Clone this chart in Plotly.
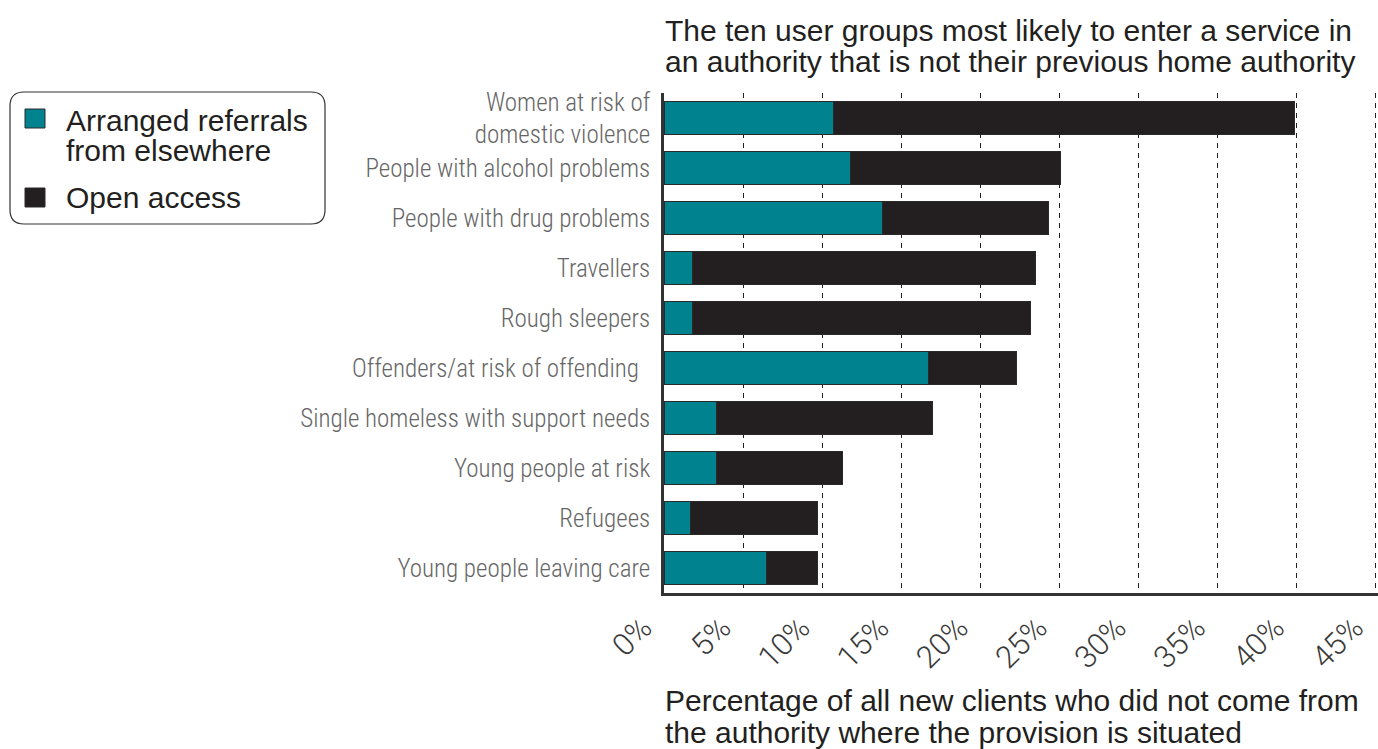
import plotly.graph_objects as go

categories = [
    "Women at risk of<br>domestic violence",
    "People with alcohol problems",
    "People with drug problems",
    "Travellers",
    "Rough sleepers",
    "Offenders/at risk of offending\u00a0\u00a0",
    "Single homeless with support needs",
    "Young people at risk",
    "Refugees",
    "Young people leaving care",
]
arranged_referrals = [10.7, 11.8, 13.8, 1.8, 1.8, 16.7, 3.3, 3.3, 1.7, 6.5]
open_access = [29.2, 13.3, 10.5, 21.7, 21.4, 5.6, 13.7, 8.0, 8.0, 3.2]
x_ticks = [0, 5, 10, 15, 20, 25, 30, 35, 40, 45]
x_tick_labels = ["0%", "5%", "10%", "15%", "20%", "25%", "30%", "35%", "40%", "45%"]

TEAL = "#00838F"
DARK = "#231F20"

W, H = 1378, 749
PL, PT = 664, 93
PW, PH = W - PL, 500


def xp(px):
    return (px - PL) / PW


def yp(py):
    return (PT + PH - py) / PH


fig = go.Figure()
fig.add_trace(go.Bar(
    y=categories, x=arranged_referrals, orientation="h", name="Arranged referrals from elsewhere",
    marker=dict(color=TEAL, line=dict(color="#2a2a2a", width=1)), width=0.66, showlegend=False,
))
fig.add_trace(go.Bar(
    y=categories, x=open_access, orientation="h", name="Open access",
    marker=dict(color=DARK, line=dict(color="#2a2a2a", width=1)), width=0.66, showlegend=False,
))

label_font = dict(family="Roboto Condensed, Liberation Sans Narrow, Liberation Sans", size=25,
                  color="#666666", weight=300)
tick_font = dict(family="Roboto, Liberation Sans", size=31, color="#3a3a3a", weight=300)
title_font = dict(family="Liberation Sans, Arial", size=30, color=DARK)

fig.update_layout(
    width=W, height=H,
    margin=dict(l=PL, r=0, t=PT, b=H - PT - PH, pad=0),
    barmode="stack",
    plot_bgcolor="white", paper_bgcolor="white",
)
fig.update_xaxes(
    range=[0, 45.15], tickvals=x_ticks, ticktext=[t + "\u00a0" for t in x_tick_labels], tickangle=-45,
    showgrid=True, gridcolor=DARK, gridwidth=1.3, griddash="5px,5px",
    showline=True, linecolor="#333333", linewidth=2.5, automargin=False,
    ticks="", tickfont=tick_font, ticklabelstandoff=-4, ticklabelshift=-16,
    ticklabeloverflow="allow", zeroline=False,
)
fig.update_yaxes(
    categoryorder="array", categoryarray=categories, autorange="reversed",
    showgrid=False, showline=True, linecolor="#333333", linewidth=2.5, automargin=False,
    ticks="", tickfont=label_font, ticklabelstandoff=6,
)

annotations = []
for text, cy in [("The ten user groups most likely to enter a service in", 31),
                 ("an authority that is not their previous home authority", 62)]:
    annotations.append(dict(text=text, x=xp(663), y=yp(cy), xref="paper", yref="paper",
                            xanchor="left", yanchor="middle", showarrow=False, font=title_font))
for text, cy in [("Percentage of all new clients who did not come from", 700),
                 ("the authority where the provision is situated", 732)]:
    annotations.append(dict(text=text, x=xp(663), y=yp(cy), xref="paper", yref="paper",
                            xanchor="left", yanchor="middle", showarrow=False, font=title_font))
for text, cy in [("Arranged referrals", 120), ("from elsewhere", 150), ("Open access", 197)]:
    annotations.append(dict(text=text, x=xp(64), y=yp(cy), xref="paper", yref="paper",
                            xanchor="left", yanchor="middle", showarrow=False, font=title_font))
fig.update_layout(annotations=annotations)

x0, x1, y0, y1, r = xp(10), xp(325), yp(92), yp(224), 14
rx, ry = r / PW, r / PH
path = (f"M {x0+rx},{y0} L {x1-rx},{y0} Q {x1},{y0} {x1},{y0-ry} "
        f"L {x1},{y1+ry} Q {x1},{y1} {x1-rx},{y1} "
        f"L {x0+rx},{y1} Q {x0},{y1} {x0},{y1+ry} "
        f"L {x0},{y0-ry} Q {x0},{y0} {x0+rx},{y0} Z")
shapes = [dict(type="path", path=path, xref="paper", yref="paper",
               line=dict(color="#333333", width=1.2), fillcolor="rgba(0,0,0,0)")]
for color, top in [(TEAL, 109), (DARK, 188)]:
    shapes.append(dict(type="rect", xref="paper", yref="paper",
                       x0=xp(25), x1=xp(45), y0=yp(top), y1=yp(top + 19),
                       fillcolor=color, line=dict(color="#2a2a2a", width=1)))
fig.update_layout(shapes=shapes)

fig.write_html("out.html")
